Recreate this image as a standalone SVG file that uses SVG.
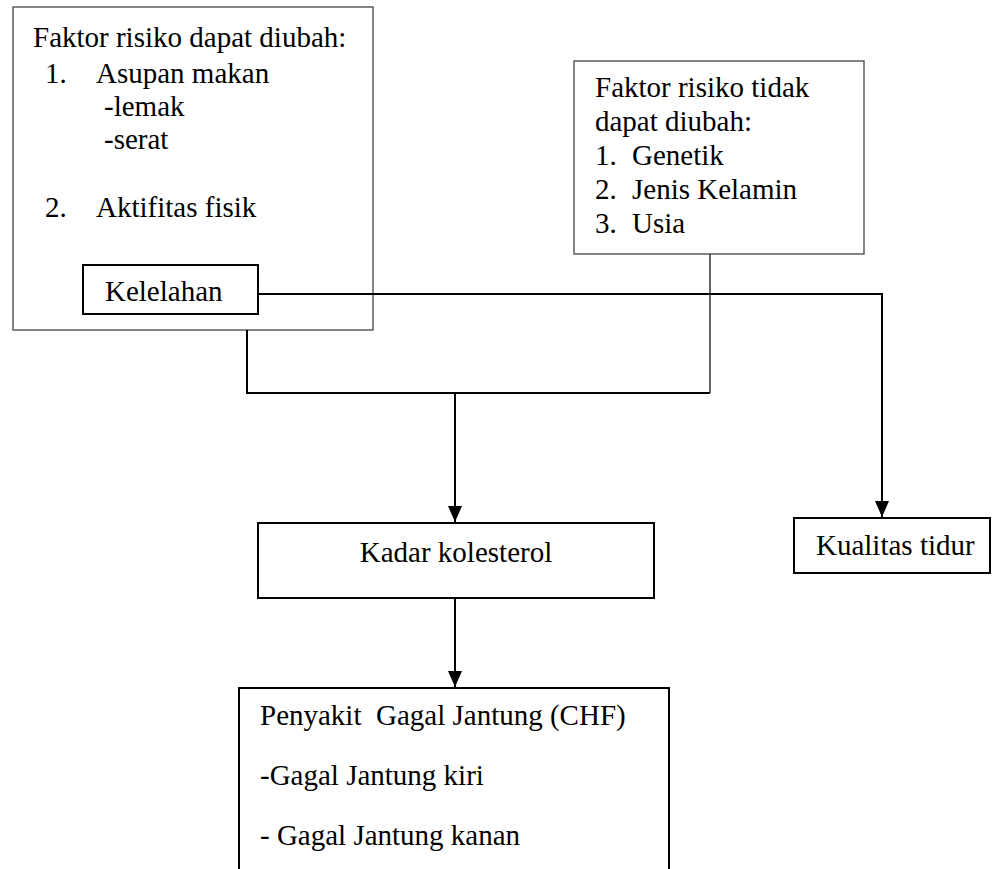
<svg xmlns="http://www.w3.org/2000/svg" width="992" height="869" viewBox="0 0 992 869" font-family="Liberation Serif, Times New Roman, DejaVu Serif, serif" font-size="29">
<style>
text{fill:#000;white-space:pre}
.thin{fill:#fff;stroke:#444;stroke-width:1.3}
.box{fill:#fff;stroke:#000;stroke-width:2}
.con{fill:none;stroke:#000;stroke-width:2}
.con2{fill:none;stroke:#333;stroke-width:1.5}
</style>
<defs>
<marker id="arr" markerUnits="userSpaceOnUse" viewBox="0 0 16 14" markerWidth="16" markerHeight="14" refX="16" refY="7" orient="auto">
<path d="M0,0 L16,7 L0,14 z" fill="#000"/>
</marker>
</defs>
<rect width="992" height="869" fill="#fff"/>
<g id="faktor-diubah">
<rect class="thin" x="13" y="7" width="360" height="323"/>
<text x="33" y="47">Faktor risiko dapat diubah:</text>
<text x="45" y="83">1.</text><text x="96" y="83">Asupan makan</text>
<text x="104" y="116">-lemak</text>
<text x="104" y="149">-serat</text>
<text x="45" y="217">2.</text><text x="96" y="217">Aktifitas fisik</text>
</g>
<g id="kelelahan">
<rect class="box" x="83" y="265" width="175" height="49"/>
<text x="105" y="301">Kelelahan</text>
</g>
<g id="faktor-tidak">
<rect class="thin" x="574" y="61" width="290" height="193"/>
<text x="595" y="97">Faktor risiko tidak</text>
<text x="595" y="131">dapat diubah:</text>
<text x="595" y="165">1.</text><text x="632" y="165">Genetik</text>
<text x="595" y="199">2.</text><text x="632" y="199">Jenis Kelamin</text>
<text x="595" y="233">3.</text><text x="632" y="233">Usia</text>
</g>
<g id="kadar">
<rect class="box" x="258" y="523" width="396" height="75"/>
<text x="456" y="562" text-anchor="middle">Kadar kolesterol</text>
</g>
<g id="kualitas">
<rect class="box" x="794" y="518" width="196" height="55"/>
<text x="816" y="555">Kualitas tidur</text>
</g>
<g id="chf">
<path class="box" d="M239,872 V688 H669 V872"/>
<text x="260" y="725">Penyakit  Gagal Jantung (CHF)</text>
<text x="260" y="785">-Gagal Jantung kiri</text>
<text x="260" y="845">- Gagal Jantung kanan</text>
</g>
<g id="connectors">
<path class="con" d="M258,294 H882 V517" marker-end="url(#arr)"/>
<path class="con" d="M247,330 V393 H710"/>
<path class="con2" d="M710,254 V393"/>
<path class="con" d="M455,393 V522" marker-end="url(#arr)"/>
<path class="con" d="M455,598 V687" marker-end="url(#arr)"/>
</g>
</svg>
